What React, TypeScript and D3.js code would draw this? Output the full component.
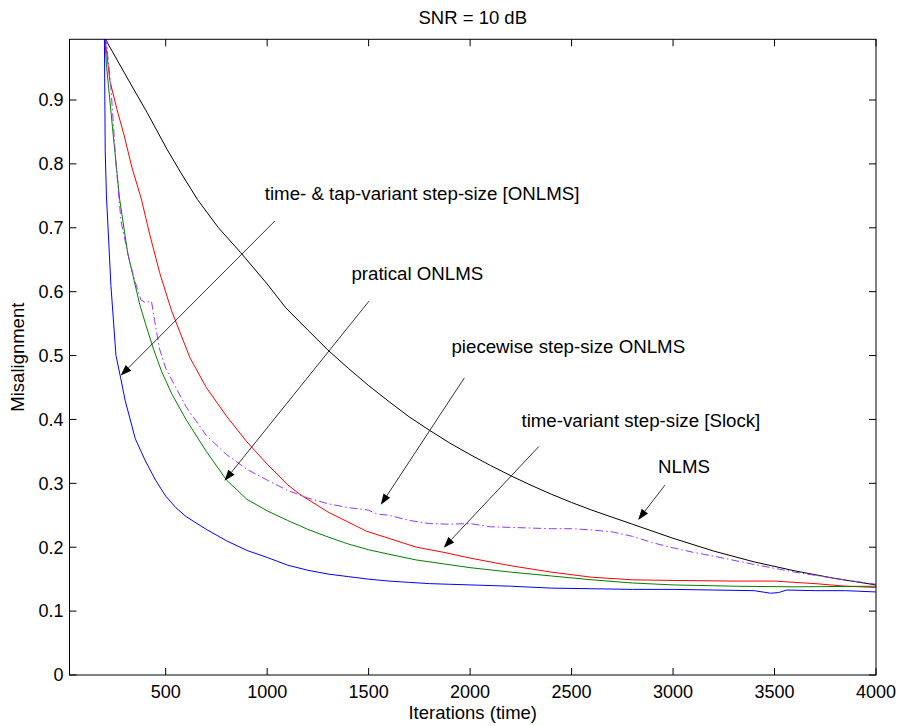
import React from "react";
import * as d3 from "d3";

// misalignment curves, SNR = 10 dB
const W = 898, H = 726;
const margin = { top: 39.3, right: 22, bottom: 51, left: 69.5 };

const xTicks = [500, 1000, 1500, 2000, 2500, 3000, 3500, 4000];
const yTicks = [0, 0.1, 0.2, 0.3, 0.4, 0.5, 0.6, 0.7, 0.8, 0.9];

const nlmsIter = [200, 212, 317, 409, 508, 575, 657, 760, 870, 1000, 1091, 1200, 1298, 1400, 1500, 1600, 1700, 1800, 1900, 2000, 2100, 2200, 2300, 2400, 2500, 2600, 2700, 2800, 2900, 3000, 3200, 3400, 3600, 3800, 4000];
const nlmsVal = [1.0, 0.99, 0.931, 0.88, 0.822, 0.786, 0.744, 0.70, 0.661, 0.612, 0.575, 0.54, 0.509, 0.48, 0.453, 0.428, 0.404, 0.383, 0.363, 0.345, 0.328, 0.312, 0.297, 0.283, 0.27, 0.258, 0.247, 0.236, 0.225, 0.214, 0.194, 0.177, 0.163, 0.151, 0.141];

const slockIter = [200, 225, 260, 295, 333, 380, 421, 470, 529, 619, 700, 800, 900, 1000, 1100, 1160, 1300, 1490, 1736, 1870, 2000, 2200, 2400, 2600, 2800, 3000, 3300, 3500, 3700, 3850, 4000];
const slockVal = [1.0, 0.93, 0.885, 0.845, 0.795, 0.745, 0.69, 0.63, 0.57, 0.497, 0.45, 0.405, 0.365, 0.33, 0.298, 0.283, 0.255, 0.225, 0.2, 0.192, 0.183, 0.171, 0.161, 0.153, 0.149, 0.148, 0.147, 0.147, 0.143, 0.139, 0.137];

const practIter = [200, 208, 240, 273, 313, 372, 405, 440, 480, 530, 600, 700, 800, 900, 1000, 1100, 1200, 1300, 1400, 1500, 1600, 1736, 2000, 2200, 2400, 2600, 2800, 3000, 3300, 3600, 4000];
const practVal = [1.0, 0.955, 0.85, 0.745, 0.66, 0.58, 0.545, 0.51, 0.475, 0.44, 0.4, 0.35, 0.305, 0.275, 0.257, 0.242, 0.228, 0.216, 0.205, 0.196, 0.189, 0.18, 0.168, 0.161, 0.155, 0.149, 0.144, 0.141, 0.139, 0.138, 0.139];

const pieceIter = [205, 230, 255, 280, 320, 350, 378, 400, 430, 445, 470, 500, 550, 600, 700, 800, 900, 1000, 1100, 1200, 1300, 1400, 1500, 1540, 1600, 1700, 1800, 1900, 2000, 2100, 2200, 2300, 2400, 2500, 2600, 2700, 2800, 2900, 3000, 3100, 3200, 3400, 3600, 3800, 4000];
const pieceVal = [1.0, 0.92, 0.8, 0.71, 0.65, 0.615, 0.587, 0.583, 0.585, 0.555, 0.51, 0.48, 0.45, 0.42, 0.375, 0.345, 0.322, 0.305, 0.289, 0.277, 0.268, 0.262, 0.258, 0.252, 0.25, 0.242, 0.237, 0.236, 0.237, 0.232, 0.231, 0.23, 0.229, 0.229, 0.227, 0.224, 0.217, 0.207, 0.199, 0.192, 0.186, 0.173, 0.161, 0.151, 0.142];

const tapIter = [198, 202, 208, 230, 255, 278, 300, 350, 400, 450, 500, 550, 600, 700, 800, 900, 1000, 1100, 1200, 1300, 1400, 1500, 1600, 1700, 1800, 1900, 2000, 2200, 2400, 2600, 2800, 3000, 3200, 3400, 3480, 3520, 3560, 3700, 3850, 4000];
const tapVal = [1.0, 0.82, 0.75, 0.61, 0.5, 0.465, 0.43, 0.37, 0.335, 0.305, 0.28, 0.262, 0.248, 0.228, 0.21, 0.195, 0.184, 0.172, 0.164, 0.158, 0.154, 0.15, 0.147, 0.145, 0.143, 0.142, 0.141, 0.139, 0.136, 0.135, 0.134, 0.134, 0.133, 0.132, 0.128, 0.129, 0.133, 0.132, 0.132, 0.13];

const series = [
  { name: "NLMS", iter: nlmsIter, val: nlmsVal, color: "#000000", dash: null },
  { name: "Slock", iter: slockIter, val: slockVal, color: "#ff0000", dash: null },
  { name: "pratical", iter: practIter, val: practVal, color: "#008000", dash: null },
  { name: "piecewise", iter: pieceIter, val: pieceVal, color: "#9933ff", dash: "8,3,1.5,3" },
  { name: "tap", iter: tapIter, val: tapVal, color: "#0000ff", dash: null },
];

// annotation text (left edge, middle) and arrow (from -> tip), in data units
const noteLabels = ["time- & tap-variant step-size [ONLMS]", "pratical ONLMS", "piecewise step-size ONLMS", "time-variant step-size [Slock]", "NLMS"];
const noteTextX = [988, 1415, 1908, 2253, 2926];
const noteTextY = [0.7537, 0.628, 0.5143, 0.399, 0.3268];
const arrowFrom = [[1038, 0.7107], [1502, 0.5852], [1972, 0.4652], [2339, 0.3577], [2960, 0.2972]];
const arrowTip = [[278.5, 0.4686], [790, 0.3039], [1560, 0.2663], [1870, 0.1993], [2828, 0.2428]];

const font = "Arial, 'Liberation Sans', Helvetica, sans-serif";

function Arrow({ x1, y1, x2, y2 }) {
  const ang = Math.atan2(y2 - y1, x2 - x1);
  const len = 11, half = 4;
  const bx = x2 - len * Math.cos(ang), by = y2 - len * Math.sin(ang);
  const px = -Math.sin(ang) * half, py = Math.cos(ang) * half;
  return (
    <g>
      <line x1={x1} y1={y1} x2={bx} y2={by} stroke="#000" strokeWidth={0.8} />
      <polygon points={`${x2},${y2} ${bx + px},${by + py} ${bx - px},${by - py}`} fill="#000" />
    </g>
  );
}

export default function App() {
  const x = d3.scaleLinear().domain([26, 4000]).range([margin.left, W - margin.right]);
  const y = d3.scaleLinear().domain([0, 0.995]).range([H - margin.bottom, margin.top]);
  const x0 = x.range()[0], x1 = x.range()[1];
  const y0 = y.range()[0], y1 = y.range()[1];
  const tick = 7;

  return (
    <div style={{ position: "absolute", left: 0, top: 0 }}>
      <svg width={W} height={H} style={{ display: "block", background: "#fff" }} fontFamily={font}>
        <defs>
          <clipPath id="plotClip">
            <rect x={x0} y={y1} width={x1 - x0} height={y0 - y1} />
          </clipPath>
        </defs>
        <rect x={0} y={0} width={W} height={H} fill="#fff" />

        <g clipPath="url(#plotClip)">
          {series.map((s) => {
            const pts = s.iter.map((it, i) => [x(it), y(s.val[i])] as [number, number]);
            const path = d3.line()(pts);
            return (
              <path key={s.name} d={path || ""} fill="none" stroke={s.color}
                strokeWidth={1} strokeDasharray={s.dash || undefined} />
            );
          })}
        </g>

        {/* frame and ticks */}
        <rect x={x0} y={y1} width={x1 - x0} height={y0 - y1} fill="none" stroke="#000" strokeWidth={1} />
        {xTicks.map((t) => (
          <g key={"x" + t}>
            <line x1={x(t)} x2={x(t)} y1={y0} y2={y0 - tick} stroke="#000" />
            <line x1={x(t)} x2={x(t)} y1={y1} y2={y1 + tick} stroke="#000" />
            <text x={x(t)} y={y0 + 17} dy="0.35em" textAnchor="middle" fontSize={18}>{t}</text>
          </g>
        ))}
        {yTicks.map((t) => (
          <g key={"y" + t}>
            <line x1={x0} x2={x0 + tick} y1={y(t)} y2={y(t)} stroke="#000" />
            <line x1={x1} x2={x1 - tick} y1={y(t)} y2={y(t)} stroke="#000" />
            <text x={x0 - 6} y={y(t)} dy="0.35em" textAnchor="end" fontSize={18}>{t}</text>
          </g>
        ))}

        {/* annotations */}
        {noteLabels.map((lab, i) => (
          <g key={lab}>
            <text x={x(noteTextX[i])} y={y(noteTextY[i])} dy="0.35em" fontSize={18.7}>{lab}</text>
            <Arrow x1={x(arrowFrom[i][0])} y1={y(arrowFrom[i][1])} x2={x(arrowTip[i][0])} y2={y(arrowTip[i][1])} />
          </g>
        ))}

        <text x={(x0 + x1) / 2} y={18} dy="0.35em" textAnchor="middle" fontSize={18.5}>SNR = 10 dB</text>
        <text x={(x0 + x1) / 2} y={713} dy="0.35em" textAnchor="middle" fontSize={18.5}>Iterations (time)</text>
        <text transform={`translate(18,${(y0 + y1) / 2}) rotate(-90)`} dy="0.35em" textAnchor="middle" fontSize={18.5}>Misalignment</text>
      </svg>
    </div>
  );
}
